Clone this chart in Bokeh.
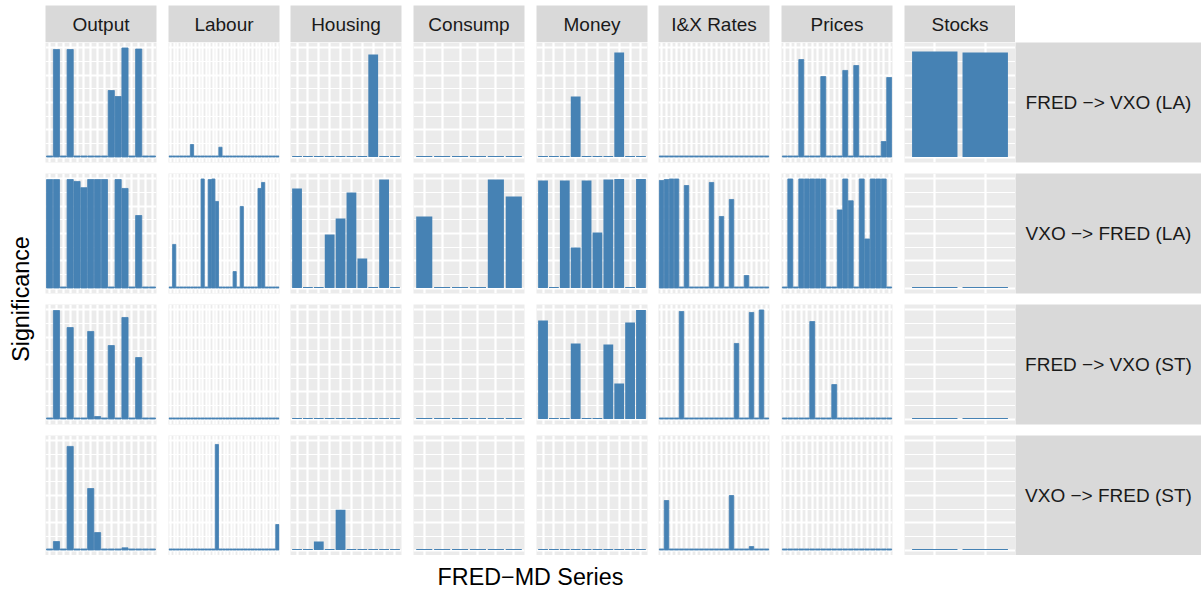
import math
from bokeh.plotting import figure
from bokeh.layouts import row, column
from bokeh.models import Range1d, Grid, FixedTicker, ColumnDataSource, Spacer
from bokeh.core.properties import value
from bokeh.embed import file_html
from bokeh.resources import INLINE

# ---------------- data ----------------
groups = ["Output", "Labour", "Housing", "Consump", "Money", "I&X Rates", "Prices", "Stocks"]
n_series = [16, 31, 10, 6, 10, 22, 20, 2]
directions = ["FRED \u2212> VXO (LA)", "VXO \u2212> FRED (LA)", "FRED \u2212> VXO (ST)", "VXO \u2212> FRED (ST)"]
x_title = "FRED\u2212MD Series"
y_title = "Significance"

def sparse(n, d, base=0.01):
    out = [base] * n
    for k, v in d.items():
        out[k - 1] = v
    return out

fred_vxo_la = {
    "Output":    [0.01, 0.986, 0.01, 0.986, 0.01, 0.01, 0.01, 0.01, 0.01, 0.61, 0.555, 1.0, 0.01, 0.99, 0.01, 0.01],
    "Labour":    sparse(31, {7: 0.115, 15: 0.09}),
    "Housing":   [0.01, 0.01, 0.01, 0.01, 0.01, 0.01, 0.01, 0.94, 0.01, 0.01],
    "Consump":   [0.01, 0.01, 0.01, 0.01, 0.01, 0.01],
    "Money":     [0.01, 0.01, 0.01, 0.555, 0.01, 0.01, 0.01, 0.959, 0.01, 0.01],
    "I&X Rates": sparse(22, {}),
    "Prices":    sparse(20, {4: 0.894, 8: 0.738, 12: 0.794, 14: 0.839, 19: 0.142, 20: 0.729}),
    "Stocks":    [0.968, 0.959],
}
vxo_fred_la = {
    "Output":    [0.994, 0.994, 0.01, 0.995, 0.977, 0.92, 0.995, 0.995, 0.995, 0.01, 0.995, 0.913, 0.01, 0.665, 0.01, 0.01],
    "Labour":    sparse(31, {2: 0.40, 10: 1.0, 12: 0.994, 13: 1.0, 14: 0.794, 19: 0.151, 21: 0.748, 26: 0.913, 27: 0.968}),
    "Housing":   [0.913, 0.01, 0.01, 0.49, 0.637, 0.876, 0.27, 0.01, 0.995, 0.01],
    "Consump":   [0.656, 0.01, 0.01, 0.01, 0.995, 0.839],
    "Money":     [0.986, 0.01, 0.986, 0.372, 0.986, 0.509, 0.995, 1.0, 0.01, 1.0],
    "I&X Rates": sparse(22, {1: 0.986, 2: 0.995, 3: 1.0, 4: 1.0, 6: 0.94, 11: 0.968, 13: 0.656, 15: 0.812, 18: 0.115}),
    "Prices":    sparse(20, {2: 1.0, 4: 1.0, 5: 1.0, 6: 1.0, 7: 1.0, 8: 1.0, 11: 0.716, 12: 1.0, 13: 0.80,
                             15: 1.0, 16: 0.45, 17: 1.0, 18: 1.0, 19: 1.0}),
    "Stocks":    [0.01, 0.01],
}
fred_vxo_st = {
    "Output":    [0.01, 0.995, 0.01, 0.839, 0.01, 0.01, 0.803, 0.023, 0.01, 0.674, 0.01, 0.931, 0.01, 0.564, 0.01, 0.01],
    "Labour":    sparse(31, {}),
    "Housing":   sparse(10, {}),
    "Consump":   sparse(6, {}),
    "Money":     [0.904, 0.01, 0.01, 0.693, 0.01, 0.01, 0.683, 0.326, 0.885, 1.0],
    "I&X Rates": sparse(22, {5: 0.986, 16: 0.693, 19: 0.977, 21: 1.0}),
    "Prices":    sparse(20, {6: 0.894, 10: 0.316}),
    "Stocks":    [0.01, 0.01],
}
vxo_fred_st = {
    "Output":    [0.01, 0.078, 0.01, 0.95, 0.01, 0.01, 0.564, 0.16, 0.01, 0.01, 0.01, 0.02, 0.01, 0.01, 0.01, 0.01],
    "Labour":    sparse(31, {14: 0.968, 31: 0.234}),
    "Housing":   sparse(10, {3: 0.078, 5: 0.37}),
    "Consump":   sparse(6, {}),
    "Money":     sparse(10, {}),
    "I&X Rates": sparse(22, {2: 0.454, 15: 0.50, 19: 0.032}),
    "Prices":    sparse(20, {}),
    "Stocks":    [0.01, 0.01],
}
rows_data = [fred_vxo_la, vxo_fred_la, fred_vxo_st, vxo_fred_st]

# ---------------- style / layout ----------------
FONT = value("Liberation Sans")
BAR = "#4682B4"
PANEL_BG = "#EBEBEB"
STRIP_BG = "#D9D9D9"
PW, PH = 111, 120
col_gaps = [12, 11, 12, 12, 11, 12, 12, 0]
row_gaps = [11, 11, 11, 0]
LEFT_W = 45
TOP_PAD = 5
STRIP_H = 37
RIGHT_W = 186
BOTTOM_H = 33
STRIP_FS = "19px"
TITLE_FS = "23.3px"


def base_fig(w, h, xr, yr, br=0, bb=0, bt=0, bg="white"):
    p = figure(width=w, height=h, x_range=xr, y_range=yr, title=None,
               x_axis_type=None, y_axis_type=None, output_backend="svg",
               toolbar_location=None, min_border_left=0, min_border_right=br,
               min_border_top=bt, min_border_bottom=bb,
               background_fill_color=bg, border_fill_color="white",
               outline_line_color=None)
    return p


def panel(vals, n, br, bb):
    p = base_fig(PW + br, PH + bb, Range1d(0.4, n + 0.6), Range1d(-0.05, 1.05), br, bb, 0, PANEL_BG)
    p.add_layout(Grid(dimension=1, ticker=FixedTicker(ticks=[0.125, 0.375, 0.625, 0.875]),
                      grid_line_color="white", grid_line_width=1.1))
    p.add_layout(Grid(dimension=1, ticker=FixedTicker(ticks=[0, 0.25, 0.5, 0.75, 1.0]),
                      grid_line_color="white", grid_line_width=2.2))
    p.add_layout(Grid(dimension=0, ticker=FixedTicker(ticks=list(range(1, n + 1))),
                      grid_line_color="white", grid_line_width=2.2))
    src = ColumnDataSource(dict(x=list(range(1, n + 1)), top=vals))
    # gaps narrower than one pixel are not visible in the reference rendering
    gap_px = 0.1 * PW / (n + 0.2)
    if gap_px < 1.0:
        p.vbar(x="x", top="top", bottom=0, width=0.9, source=src,
               fill_color=BAR, line_color=BAR, line_width=0.8)
    else:
        p.vbar(x="x", top="top", bottom=0, width=0.9, source=src,
               fill_color=BAR, line_color=None)
    return p


def strip(label, w, h, br=0, bb=0, bt=0):
    p = base_fig(w, h, Range1d(0, 1), Range1d(0, 1), br, bb, bt, STRIP_BG)
    p.text(x=[0.5], y=[0.5], text=[label], text_align="center", text_baseline="middle",
           text_font=FONT, text_font_size=STRIP_FS, text_color="#1A1A1A")
    return p


# top strip row
top_items = []
for c, g in enumerate(groups):
    top_items.append(strip(g, PW + col_gaps[c], TOP_PAD + STRIP_H, br=col_gaps[c], bt=TOP_PAD))
top_items.append(Spacer(width=RIGHT_W, height=TOP_PAD + STRIP_H))
grid_rows = [row(top_items, spacing=0)]

for r, rd in enumerate(rows_data):
    items = []
    for c, g in enumerate(groups):
        items.append(panel(rd[g], n_series[c], col_gaps[c], row_gaps[r]))
    items.append(strip(directions[r], RIGHT_W, PH + row_gaps[r], 0, row_gaps[r]))
    grid_rows.append(row(items, spacing=0))

body_h = TOP_PAD + STRIP_H + 4 * PH + sum(row_gaps)
panels_mid = TOP_PAD + STRIP_H + (4 * PH + sum(row_gaps)) / 2

# y title
ylab = base_fig(LEFT_W, body_h, Range1d(0, LEFT_W), Range1d(0, body_h))
ylab.text(x=[20], y=[body_h - panels_mid], text=[y_title],
          angle=math.pi / 2, text_align="center", text_baseline="middle",
          text_font=FONT, text_font_size=TITLE_FS, text_color="black")

panels_w = 8 * PW + sum(col_gaps)
xlab = base_fig(panels_w, BOTTOM_H, Range1d(0, 1), Range1d(0, BOTTOM_H))
xlab.text(x=[0.5], y=[12], text=[x_title], text_align="center", text_baseline="middle",
          text_font=FONT, text_font_size=TITLE_FS, text_color="black")

layout = column(
    row(ylab, column(grid_rows, spacing=0), spacing=0),
    row(Spacer(width=LEFT_W, height=BOTTOM_H), xlab, Spacer(width=RIGHT_W, height=BOTTOM_H), spacing=0),
    spacing=0,
)

open("out.html", "w").write(file_html(layout, INLINE))
